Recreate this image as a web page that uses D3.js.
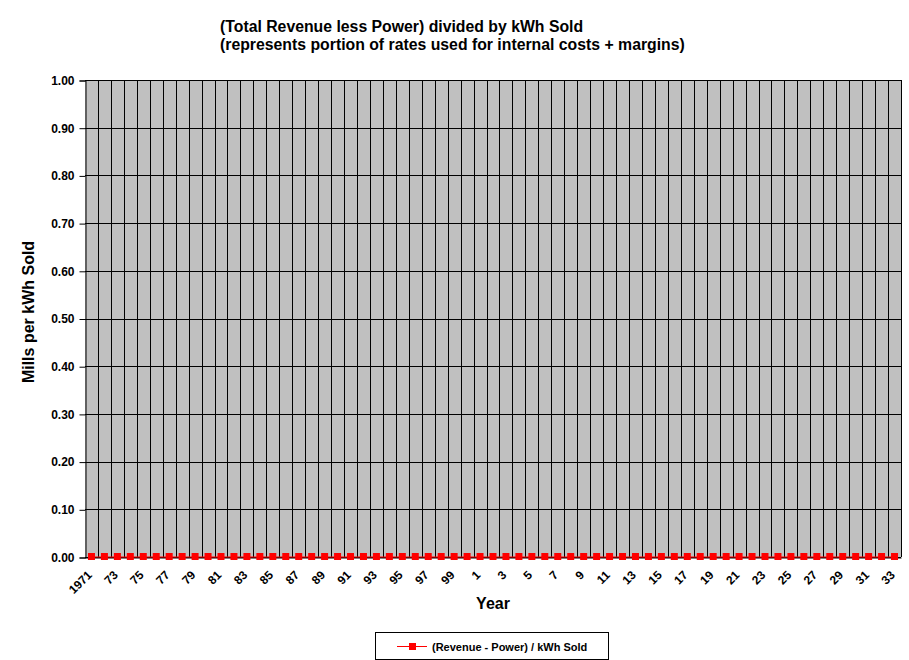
<!DOCTYPE html>
<html><head><meta charset="utf-8">
<script src="https://cdn.jsdelivr.net/npm/d3@7/dist/d3.min.js"></script>
<style>body{margin:0;background:#fff}svg{display:block;font-family:"Liberation Sans",Arial,sans-serif}</style>
</head><body><svg id="c" width="909" height="660"></svg>
<script>
const years = ["1971","72","73","74","75","76","77","78","79","80","81","82","83","84","85","86","87","88","89","90","91","92","93","94","95","96","97","98","99","0","1","2","3","4","5","6","7","8","9","10","11","12","13","14","15","16","17","18","19","20","21","22","23","24","25","26","27","28","29","30","31","32","33"];
const values = [0,0,0,0,0,0,0,0,0,0,0,0,0,0,0,0,0,0,0,0,0,0,0,0,0,0,0,0,0,0,0,0,0,0,0,0,0,0,0,0,0,0,0,0,0,0,0,0,0,0,0,0,0,0,0,0,0,0,0,0,0,0,0];
const yTicks = [0,0.1,0.2,0.3,0.4,0.5,0.6,0.7,0.8,0.9,1.0];
const seriesName = "(Revenue - Power) / kWh Sold";
const titleLines = ["(Total Revenue less Power) divided by kWh Sold","(represents portion of rates used for internal costs + margins)"];

const svg = d3.select("#c");
const L=85,R=901,T=80,B=557;
const x = d3.scaleBand().domain(d3.range(years.length)).range([L,R]).padding(0);
const y = d3.scaleLinear().domain([0,1]).range([B,T]);

svg.append("rect").attr("x",L).attr("y",T).attr("width",R-L).attr("height",B-T).attr("fill","#C0C0C0");
// vertical gridlines at category boundaries
svg.append("g").selectAll("line").data(d3.range(1,years.length)).join("line")
  .attr("x1",i=>Math.round(x(i))+0.5).attr("x2",i=>Math.round(x(i))+0.5).attr("y1",T).attr("y2",B)
  .attr("stroke","#000").attr("stroke-width",1);
// horizontal gridlines
svg.append("g").selectAll("line").data(yTicks).join("line")
  .attr("x1",L).attr("x2",R).attr("y1",d=>Math.round(y(d))+0.5).attr("y2",d=>Math.round(y(d))+0.5)
  .attr("stroke","#000");
// right border
svg.append("line").attr("x1",R+0.5).attr("x2",R+0.5).attr("y1",T).attr("y2",B).attr("stroke","#000");

// y axis
const yAxis = d3.axisLeft(y).tickValues(yTicks).tickFormat(d3.format(".2f")).tickSize(6).tickPadding(5);
const gy = svg.append("g").attr("transform",`translate(${L+0.5},0.5)`).call(yAxis);
gy.select(".domain").attr("stroke","#000");
gy.selectAll("line").attr("stroke","#000");
gy.selectAll("text").attr("font-size",12).attr("font-weight","bold").attr("fill","#000").attr("font-family","Liberation Sans, Arial, sans-serif");

// x axis
const xAxis = d3.axisBottom(x).tickSize(0).tickFormat(i=>years[i]);
const gx = svg.append("g").attr("transform",`translate(0,${B+0.5})`).call(xAxis);
gx.select(".domain").attr("stroke","#000");
gx.selectAll(".tick").filter(i=>i%2===1).remove();
gx.selectAll("text").attr("font-size",12).attr("font-weight","bold").attr("fill","#000")
  .attr("font-family","Liberation Sans, Arial, sans-serif")
  .attr("text-anchor","end").attr("dy",null).attr("y",null)
  .attr("transform","translate(-1,16) rotate(-45)").attr("dominant-baseline","middle");

// series
const line = d3.line().x((d,i)=>x(i)+x.bandwidth()/2).y(d=>y(d));
svg.append("path").datum(values).attr("d",line).attr("fill","none").attr("stroke","#FF0000").attr("stroke-width",1);
svg.append("g").selectAll("rect").data(values).join("rect")
  .attr("x",(d,i)=>x(i)+x.bandwidth()/2-3.5).attr("y",d=>y(d)-4).attr("width",7).attr("height",7)
  .attr("fill","#FF0000");

// titles
svg.append("g").selectAll("text").data(titleLines).join("text")
  .attr("x",220).attr("y",(d,i)=>32+i*18).attr("font-size",15.8).attr("font-weight","bold").text(d=>d);
svg.append("text").attr("x",493).attr("y",609).attr("text-anchor","middle").attr("font-size",16).attr("font-weight","bold").text("Year");
svg.append("text").attr("transform","translate(34,312) rotate(-90)").attr("text-anchor","middle").attr("font-size",16).attr("font-weight","bold").text("Mills per kWh Sold");

// legend
const lg = svg.append("g");
lg.append("rect").attr("x",375.5).attr("y",632.5).attr("width",233).attr("height",27).attr("fill","#fff").attr("stroke","#000");
lg.append("line").attr("x1",397).attr("x2",427).attr("y1",646.5).attr("y2",646.5).attr("stroke","#FF0000");
lg.append("rect").attr("x",409).attr("y",643).attr("width",7).attr("height",7).attr("fill","#FF0000");
lg.append("text").attr("x",432).attr("y",651).attr("font-size",11).attr("font-weight","bold").text(seriesName);
</script></body></html>
